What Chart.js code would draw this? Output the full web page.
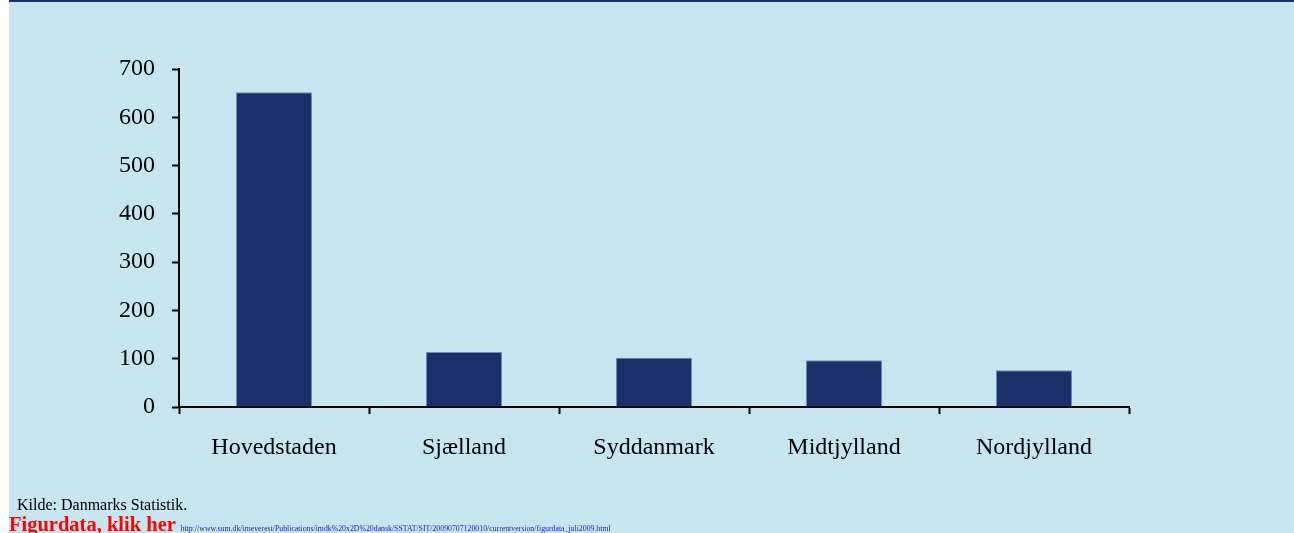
<!DOCTYPE html>
<html>
<head>
<meta charset="utf-8">
<script src="https://cdn.jsdelivr.net/npm/chart.js@4"></script>
<style>
html,body{margin:0;padding:0;width:1294px;height:533px;overflow:hidden;background:#ffffff;}
#bg{position:absolute;left:9px;top:0;width:1285px;height:533px;background:#C7E5EE;}
#topbar{position:absolute;left:9px;top:0;width:1285px;height:2px;background:#1C2F66;}
#wrap{position:absolute;left:0;top:0;width:1294px;height:533px;}
#src{position:absolute;left:17px;top:496px;font-family:"Liberation Serif",serif;font-size:16px;color:#000;}
#fig{position:absolute;left:9px;top:513px;font-family:"Liberation Serif",serif;font-size:20.5px;font-weight:bold;color:#FF0000;white-space:nowrap;}
#url{font-size:7.8px;font-weight:normal;color:#2222CC;}
</style>
</head>
<body>
<div id="bg"></div>
<div id="topbar"></div>
<div id="wrap"><canvas id="c" width="1294" height="533"></canvas></div>
<div id="src">Kilde: Danmarks Statistik.</div>
<div id="fig">Figurdata, klik her <span id="url">http://www.sum.dk/imeverest/Publications/imdk%20x2D%20dansk/SSTAT/SIT/20090707120010/currentversion/figurdata_juli2009.html</span></div>
<script>
const categories = ["Hovedstaden", "Sjælland", "Syddanmark", "Midtjylland", "Nordjylland"];
const values = [652, 114, 102, 97, 76];
const yTicks = [0, 100, 200, 300, 400, 500, 600, 700];

new Chart(document.getElementById('c'), {
  type: 'bar',
  data: {
    labels: categories,
    datasets: [{
      data: values,
      backgroundColor: '#1C2F66',
      borderColor: '#6A8CB8',
      borderWidth: 1,
      barPercentage: 0.4,
      categoryPercentage: 1.0
    }]
  },
  options: {
    responsive: false,
    animation: false,
    layout: { padding: { left: 0, right: 165, top: 69, bottom: 0 } },
    plugins: { legend: { display: false }, tooltip: { enabled: false } },
    scales: {
      x: {
        grid: { display: true, drawOnChartArea: false, offset: true, tickLength: 7, tickColor: '#000', tickWidth: 2 },
        border: { color: '#000', width: 2 },
        ticks: { color: '#000', padding: 19, font: { family: '"Liberation Serif", serif', size: 24 } },
        afterFit: s => { s.height = 126; }
      },
      y: {
        min: 0, max: 700,
        afterBuildTicks: s => { s.ticks = yTicks.map(v => ({ value: v })); },
        grid: { display: true, drawOnChartArea: false, tickLength: 7, tickColor: '#000', tickWidth: 2 },
        border: { color: '#000', width: 2 },
        ticks: { color: '#000', padding: 17, font: { family: '"Liberation Serif", serif', size: 24 } },
        afterFit: s => { s.width = 179; }
      }
    }
  }
});
</script>
</body>
</html>
